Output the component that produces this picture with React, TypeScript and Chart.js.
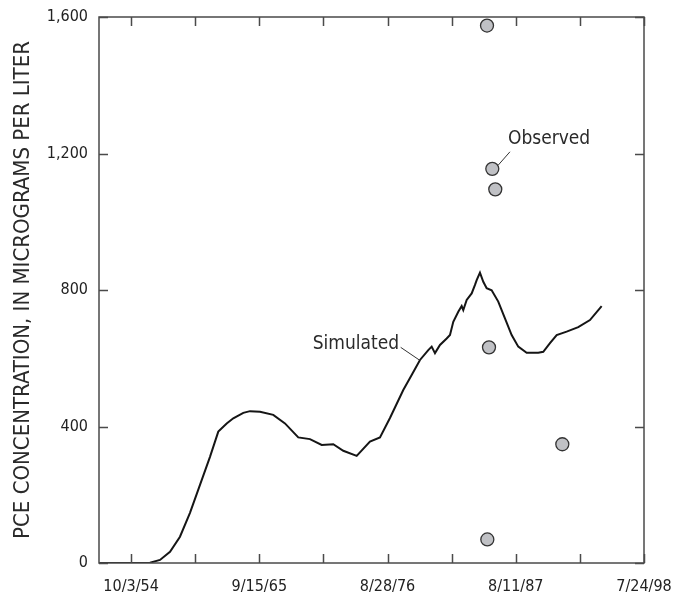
import React, { useEffect, useRef } from "react";
import { Chart, registerables } from "chart.js";

Chart.register(...registerables);

// Dates are day serials (days since 1899-12-30; 20000 = 10/3/1954)
const SIM_DAYS = [19000, 20591, 20903, 21215, 21526, 21838, 22150, 22462, 22721, 22983, 23189, 23501, 23710, 24022, 24436, 24801, 25216, 25581, 25946, 26308, 26620, 27038, 27452, 27764, 28076, 28491, 28753, 29012, 29271, 29377, 29480, 29636, 29845, 29948, 30051, 30207, 30313, 30363, 30469, 30625, 30728, 30781, 30883, 30987, 31092, 31248, 31454, 31663, 31872, 32078, 32340, 32702, 32858, 33067, 33276, 33587, 33949, 34314, 34679];
const SIM_PCE = [0, 1, 9, 33, 77, 147, 229, 311, 385, 409, 424, 440, 445, 443, 434, 409, 368, 363, 346, 348, 329, 314, 356, 368, 425, 507, 551, 595, 624, 634, 615, 639, 658, 668, 707, 736, 753, 741, 771, 790, 815, 829, 851, 824, 805, 799, 766, 717, 668, 634, 616, 616, 619, 644, 668, 678, 691, 712, 753];

const OBS_DAYS = [31103, 31268, 31361, 31165, 33452, 31113];
const OBS_PCE = [1575, 1155, 1095, 632, 348, 69];

const X_MIN = 19000;
const X_MAX = 36000;
const X_TICK_DAYS = [20000, 22000, 24000, 26000, 28000, 30000, 32000, 34000, 36000];
const X_LABEL_DAYS = [20000, 24000, 28000, 32000, 36000];
const X_LABELS = ["10/3/54", "9/15/65", "8/28/76", "8/11/87", "7/24/98"];

const Y_MIN = 0;
const Y_MAX = 1600;
const Y_STEP = 400;

const NOTE_TEXT = ["Observed", "Simulated"];
const NOTE_DAYS = [31757, 25665];
const NOTE_PCE = [1242, 642];
const LEADER_FROM_DAYS = [31819, 28410];
const LEADER_FROM_PCE = [1205, 632];
const LEADER_TO_DAYS = [31454, 28990];
const LEADER_TO_PCE = [1166, 595];

const FONT = "'DejaVu Sans Condensed', 'DejaVu Sans', sans-serif";

const frameTicks = {
  id: "frameTicks",
  afterDatasetsDraw(chart: any) {
    const { ctx, chartArea: a, scales } = chart;
    const x = scales.x;
    const y = scales.y;
    ctx.save();
    ctx.strokeStyle = "#4a4a4a";
    ctx.lineWidth = 1.5;
    ctx.strokeRect(a.left, a.top, a.right - a.left, a.bottom - a.top);
    ctx.beginPath();
    x.ticks.forEach((t: any) => {
      const p = Math.round(x.getPixelForValue(t.value)) + 0.5;
      ctx.moveTo(p, a.bottom);
      ctx.lineTo(p, a.bottom - 9);
      ctx.moveTo(p, a.top);
      ctx.lineTo(p, a.top + 9);
    });
    y.ticks.forEach((t: any) => {
      const p = Math.round(y.getPixelForValue(t.value)) + 0.5;
      ctx.moveTo(a.left, p);
      ctx.lineTo(a.left + 9, p);
      ctx.moveTo(a.right, p);
      ctx.lineTo(a.right - 9, p);
    });
    ctx.stroke();
    ctx.restore();
  },
};

const notes = {
  id: "notes",
  afterDatasetsDraw(chart: any) {
    const { ctx, scales } = chart;
    const x = scales.x;
    const y = scales.y;
    ctx.save();
    ctx.fillStyle = "#2a2a2a";
    ctx.font = `19px ${FONT}`;
    ctx.textAlign = "left";
    ctx.textBaseline = "middle";
    NOTE_TEXT.forEach((txt, i) => {
      ctx.fillText(txt, x.getPixelForValue(NOTE_DAYS[i]), y.getPixelForValue(NOTE_PCE[i]));
    });
    ctx.strokeStyle = "#333";
    ctx.lineWidth = 1;
    ctx.beginPath();
    LEADER_FROM_DAYS.forEach((d, i) => {
      ctx.moveTo(x.getPixelForValue(d), y.getPixelForValue(LEADER_FROM_PCE[i]));
      ctx.lineTo(x.getPixelForValue(LEADER_TO_DAYS[i]), y.getPixelForValue(LEADER_TO_PCE[i]));
    });
    ctx.stroke();
    ctx.restore();
  },
};

export default function App() {
  const ref = useRef<HTMLCanvasElement | null>(null);
  useEffect(() => {
    if (!ref.current) return;
    Chart.defaults.font.family = FONT;
    const chart = new Chart(ref.current, {
      type: "line",
      data: {
        datasets: [
          {
            label: "Observed",
            data: OBS_DAYS.map((d, i) => ({ x: d, y: OBS_PCE[i] })),
            showLine: false,
            pointRadius: 6.5,
            pointBackgroundColor: "#c0c1c5",
            pointBorderColor: "#333",
            pointBorderWidth: 1.3,
            borderColor: "#333",
            backgroundColor: "#c0c1c5",
          },
          {
            label: "Simulated",
            data: SIM_DAYS.map((d, i) => ({ x: d, y: SIM_PCE[i] })),
            borderColor: "#151515",
            borderWidth: 2,
            pointRadius: 0,
            tension: 0,
            fill: false,
          },
        ],
      },
      options: {
        animation: false,
        responsive: false,
        devicePixelRatio: 1,
        layout: { padding: { left: 0, right: 42, top: 17, bottom: 0 } },
        plugins: { legend: { display: false }, tooltip: { enabled: false } },
        scales: {
          x: {
            type: "linear",
            min: X_MIN,
            max: X_MAX,
            afterBuildTicks: (scale: any) => {
              scale.ticks = X_TICK_DAYS.map((v) => ({ value: v }));
            },
            afterFit: (scale: any) => {
              scale.height = 34;
              scale.paddingLeft = 0;
              scale.paddingRight = 0;
            },
            grid: { display: false, drawTicks: false },
            border: { display: false },
            ticks: {
              autoSkip: false,
              maxRotation: 0,
              padding: 14,
              color: "#222",
              font: { size: 16, family: FONT },
              callback: (value: any) => {
                const k = X_LABEL_DAYS.indexOf(Number(value));
                return k >= 0 ? X_LABELS[k] : "";
              },
            },
          },
          y: {
            min: Y_MIN,
            max: Y_MAX,
            afterFit: (scale: any) => {
              scale.width = 99;
              scale.paddingTop = 0;
              scale.paddingBottom = 0;
            },
            grid: { display: false, drawTicks: false },
            border: { display: false },
            ticks: {
              stepSize: Y_STEP,
              padding: 11,
              color: "#222",
              font: { size: 16, family: FONT },
              callback: (value: any) => Number(value).toLocaleString("en-US"),
            },
            title: {
              display: true,
              text: "PCE CONCENTRATION, IN MICROGRAMS PER LITER",
              color: "#2a2a2a",
              font: { size: 22, family: FONT },
              padding: { top: 10, bottom: 0 },
            },
          },
        },
      },
      plugins: [frameTicks, notes],
    } as any);
    return () => chart.destroy();
  }, []);
  return (
    <div style={{ position: "fixed", left: 0, top: 0, width: 686, height: 597, background: "#fff" }}>
      <canvas ref={ref} width={686} height={597} style={{ display: "block" }} />
    </div>
  );
}
